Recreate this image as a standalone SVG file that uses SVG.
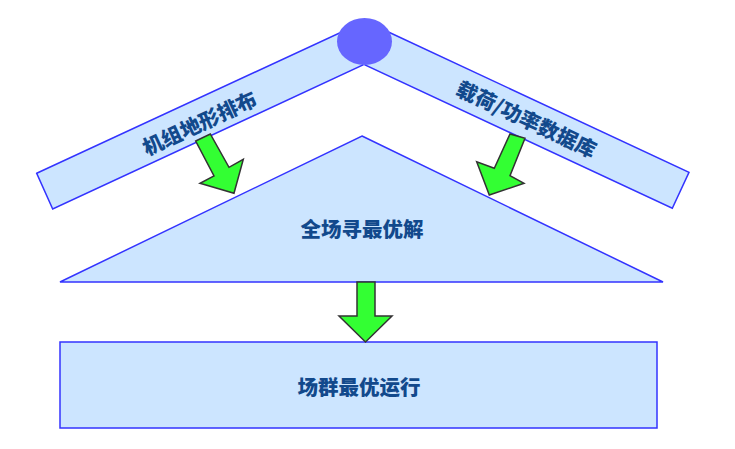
<svg xmlns="http://www.w3.org/2000/svg" width="735" height="449" viewBox="0 0 735 449">
<style>
.shape{fill:#cce5ff;stroke:#3333ff;stroke-width:1.5}
.arrow{fill:#33ff33;stroke:#333333;stroke-width:1.5;stroke-linejoin:miter}
.lbl{font-family:"Noto Sans CJK SC","Liberation Sans",sans-serif;font-weight:900;font-size:20.5px;fill:#12498c;text-anchor:middle;dominant-baseline:central}
</style>
<rect width="735" height="449" fill="#ffffff"/>
<g id="left-bar">
<polygon class="shape" points="36.7,173.3 347,29.5 363,65 52.7,209"/>
<text class="lbl" transform="translate(199,122) rotate(-24.9)">机组地形排布</text>
</g>
<g id="right-bar">
<polygon class="shape" points="382,29 689,172.3 672.3,208.3 365,65"/>
<text class="lbl" transform="translate(527,118) rotate(25)">载荷/功率数据库</text>
</g>
<g id="apex">
<ellipse cx="364.5" cy="41.5" rx="27.5" ry="23.5" fill="#6666ff"/>
</g>
<g id="optimize">
<polygon class="shape" points="362,136 663,282 60,282"/>
<text class="lbl" x="362" y="227.5">全场寻最优解</text>
</g>
<g id="operation">
<rect class="shape" x="60" y="342" width="597" height="86"/>
<text class="lbl" x="359" y="386">场群最优运行</text>
</g>
<g id="connectors">
<polygon class="arrow" points="195.7,141 210.3,134 229,167.3 243.3,159.3 234,193.3 200,183.3 214,176"/>
<polygon class="arrow" points="510,134 525,138.3 510,175.7 524,183.3 489.3,195 476.7,161.7 494.3,168.3"/>
<polygon class="arrow" points="357,282 375,282 375,316 392,316 365.5,342 339,316 357,316"/>
</g>
</svg>
